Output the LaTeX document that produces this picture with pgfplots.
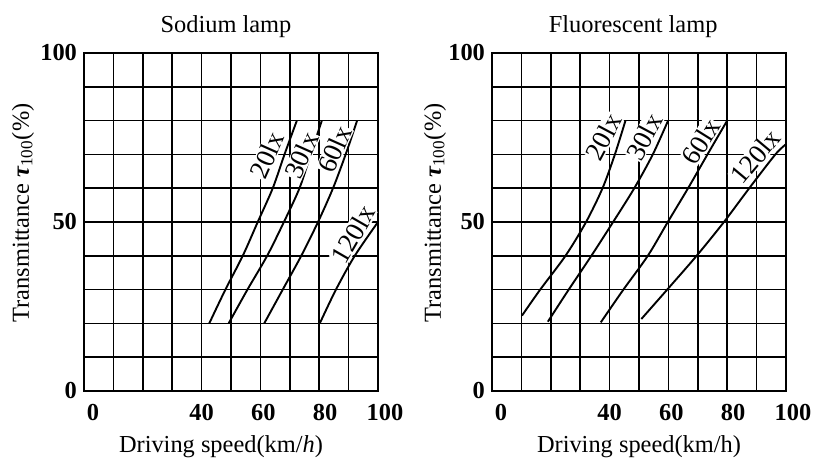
\documentclass[border=0pt]{standalone}
\usepackage{fontspec}
\setmainfont{Liberation Serif}
\usepackage{pgfplots}
\pgfplotsset{compat=1.18}
\newcommand{\fs}{\fontsize{12.2}{14}\selectfont}
\pgfplotsset{mystyle/.style={
  width=147pt, height=169pt, scale only axis,
  xmin=0, xmax=100, ymin=0, ymax=100,
  xtick={0,40,60,80,100}, ytick={0,50,100},
  xticklabels={\hspace*{9pt}0,40,\hspace*{3pt}60,\hspace*{6pt}80,\hspace*{7pt}100},
  minor xtick={10,20,30,50,70,90}, minor ytick={10,20,30,40,60,70,80,90},
  grid=both,
  major grid style={black, line width=0.75pt},
  minor grid style={black, line width=0.75pt},
  axis line style={black, line width=0.85pt},
  major tick length=0pt, minor tick length=0pt,
  tick label style={font=\fs\bfseries},
  /pgf/number format/assume math mode=true,
  xticklabel style={yshift=-3pt},
  label style={font=\fs},
  ylabel={Transmittance {\bfseries\itshape τ}\textsubscript{100}(\%)},
}}
\tikzset{lab/.style={fill=white, inner sep=0.3pt, font=\fontsize{13.5}{15}\selectfont},
  crv/.style={black, line width=0.95pt, smooth, no marks}}
\begin{document}
\begin{tikzpicture}
\path[use as bounding box] (-42pt,-34pt) rectangle (366pt,195.5pt);
\begin{axis}[mystyle, at={(0pt,0pt)},
  xlabel={Driving speed(km/\textit{h})},
  xlabel style={at={(axis description cs:0.466,-0.166)}, anchor=center},
  ylabel style={at={(axis description cs:-0.2075,0.527)}, anchor=center},
  after end axis/.code={\node[font=\fs] at (axis description cs:0.483,1.077) {Sodium lamp};},
]
\addplot[crv] coordinates {(42.6,20) (48.1,30) (54,40) (59.1,50) (64.2,60) (68.2,70) (72.4,80)};
\addplot[crv] coordinates {(49.2,20) (55.6,30) (62.3,40) (68,50) (73.3,60) (77.1,70) (80.9,80)};
\addplot[crv] coordinates {(61.3,20) (67.6,30) (73.9,40) (79.6,50) (84.7,60) (89,70) (92.9,80)};
\addplot[crv] coordinates {(80.2,20) (85.7,30) (92.1,40) (100,50)};
\node[lab, rotate=66] at (axis cs:62.2,69.8) {20lx};
\node[lab, rotate=66] at (axis cs:74,69.8) {30lx};
\node[lab, rotate=66] at (axis cs:85.3,71.6) {60lx};
\node[lab, rotate=60] at (axis cs:91.6,46.4) {120lx};
\end{axis}
\begin{axis}[mystyle, at={(204pt,0pt)},
  xlabel={Driving speed(km/h)},
  xlabel style={at={(axis description cs:0.5,-0.166)}, anchor=center},
  ylabel style={at={(axis description cs:-0.194,0.527)}, anchor=center},
  after end axis/.code={\node[font=\fs] at (axis description cs:0.48,1.077) {Fluorescent lamp};},
]
\addplot[crv] coordinates {(10.2,22.3) (16.4,30) (25,40) (32,50) (37.6,60) (41.8,70) (45.4,80)};
\addplot[crv] coordinates {(19,20.5) (26.1,30) (33.8,40) (41.2,50) (48.4,60) (54.7,70) (59.9,80)};
\addplot[crv] coordinates {(37,20.3) (44.7,30) (53,40) (59.8,50) (66.7,60) (73.3,70) (80,80)};
\addplot[crv] coordinates {(50.8,21.3) (59.6,30) (69.6,40) (78.9,50) (87.5,60) (96.4,70) (100,73)};
\node[lab, rotate=62] at (axis cs:38,75.3) {20lx};
\node[lab, rotate=62] at (axis cs:51.8,75.3) {30lx};
\node[lab, rotate=58] at (axis cs:71,73.8) {60lx};
\node[lab, rotate=50] at (axis cs:89.6,69.4) {120lx};
\end{axis}
\end{tikzpicture}
\end{document}
